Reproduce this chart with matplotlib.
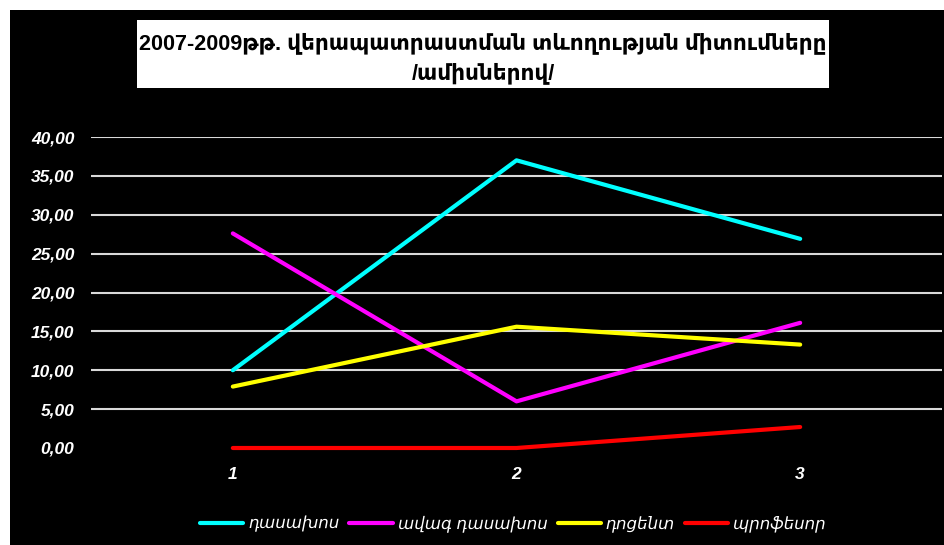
import matplotlib
matplotlib.use('Agg')
import matplotlib.pyplot as plt
import numpy as np

plt.rcParams['font.family'] = ['Liberation Sans', 'DejaVu Sans']

# data
categories = ['1', '2', '3']
series_names = ['դասախոս', 'ավագ դասախոս', 'դոցենտ', 'պրոֆեսոր']
lecturer = [10.0, 37.0, 26.9]
senior_lecturer = [27.6, 6.0, 16.1]
docent = [7.9, 15.6, 13.3]
professor = [0.0, 0.0, 2.7]
series_colors = ['#00ffff', '#ff00ff', '#ffff00', '#ff0000']
y_ticks = [0, 5, 10, 15, 20, 25, 30, 35, 40]

title = '2007-2009թթ. վերապատրաստման տևողության միտումները\n/ամիսներով/'

fig = plt.figure(figsize=(9.44, 5.45), dpi=100)
fig.patch.set_facecolor('white')

# black chart area (leaves a thin white margin top/left)
bg = plt.Rectangle((10 / 944, 0), 1, 1 - 10 / 545, transform=fig.transFigure,
                   facecolor='black', edgecolor='none', zorder=-10)
fig.patches.append(bg)

ax = fig.add_axes([91 / 944, 1 - 448 / 545, (942 - 91) / 944, (448 - 137) / 545])
ax.set_facecolor('black')

x = np.arange(1, len(categories) + 1)
for vals, name, col in zip([lecturer, senior_lecturer, docent, professor],
                           series_names, series_colors):
    ax.plot(x, vals, color=col, lw=3, label=name, solid_capstyle='round',
            zorder=3, clip_on=False)

ax.set_xlim(0.5, 3.5)
ax.set_ylim(0, 40)
ax.set_yticks(y_ticks)
ax.set_yticklabels([f'{v:.2f}'.replace('.', ',') for v in y_ticks])
ax.set_xticks(x)
ax.set_xticklabels(categories)
for s in ax.spines.values():
    s.set_visible(False)
ax.tick_params(length=0, colors='white', labelsize=12.5, pad=12)
ax.tick_params(axis='x', pad=14)
for lbl in ax.get_xticklabels() + ax.get_yticklabels():
    lbl.set_fontweight('bold')
    lbl.set_fontstyle('italic')
    lbl.set_color('white')

ax.grid(axis='y', color='#d9d9d9', lw=1.5, zorder=1)
ax.get_ygridlines()[0].set_visible(False)

# title in a white box
fig.patches.append(plt.Rectangle((137 / 944, 1 - 88 / 545), (829 - 137) / 944, 68 / 545,
                                 transform=fig.transFigure, facecolor='white',
                                 edgecolor='none', zorder=1))
fig.text(483 / 944, 1 - 58 / 545, title, ha='center', va='center', fontsize=15.6,
         fontweight='bold', color='black', linespacing=1.45, zorder=2)

leg = fig.legend(loc='center', bbox_to_anchor=(513 / 944, 1 - 524 / 545), ncol=4,
                 frameon=False, handlelength=2.6, columnspacing=0.6, handletextpad=0.3,
                 prop={'size': 12, 'style': 'italic'})
for t in leg.get_texts():
    t.set_color('white')

fig.savefig('out.png', dpi=100, facecolor='white')
